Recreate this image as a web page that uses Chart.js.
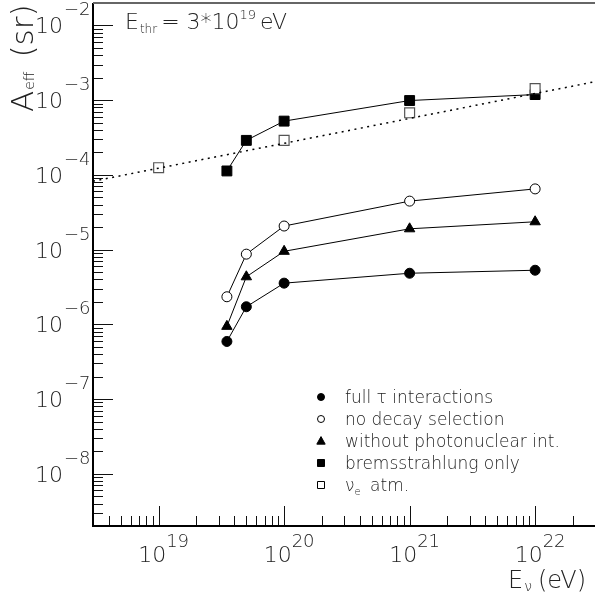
<!DOCTYPE html>
<html><head><meta charset="utf-8">
<script src="https://cdn.jsdelivr.net/npm/chart.js@4/dist/chart.umd.min.js"></script>
<style>html,body{margin:0;padding:0;background:#fff;}#wrap{width:595px;height:606px;position:relative;}</style>
</head><body><div id="wrap"><canvas id="c" width="595" height="606"></canvas></div>
<script>
// ---- data ----
const energies = [3.5e19, 5e19, 1e20, 1e21, 1e22];
const fullTau = [5.9e-7, 1.72e-6, 3.56e-6, 4.83e-6, 5.3e-6];
const noDecay = [2.34e-6, 8.7e-6, 2.07e-5, 4.46e-5, 6.5e-5];
const noPhotonuclear = [9.4e-7, 4.33e-6, 9.5e-6, 1.9e-5, 2.36e-5];
const bremsOnly = [1.13e-4, 2.9e-4, 5.25e-4, 9.9e-4, 1.19e-3];
const nueEnergies = [1e19, 1e20, 1e21, 1e22];
const nueAtm = [1.25e-4, 2.9e-4, 6.78e-4, 1.43e-3];
const fitEnergies = [3e18, 3e22];
const fitValues = [8.24e-5, 1.77e-3];
const xRange = [3e18, 3e22];
const yRange = [2e-9, 2e-2];
const xTickExponents = [19, 20, 21, 22];
const yTickExponents = [-2, -3, -4, -5, -6, -7, -8];
const legendLabels = ['full \u03c4 interactions', 'no decay selection', 'without photonuclear int.', 'bremsstrahlung only', '\u03bd|e| atm.'];

const FONT = '"DejaVu Sans", sans-serif';
const TXT = '#222';
const pts = (xs, ys) => xs.map((v, i) => ({x: v, y: ys[i]}));

const markerDefs = [
  {style: 'circle', fill: '#000'},
  {style: 'circle', fill: '#fff'},
  {style: 'triangle', fill: '#000'},
  {style: 'rect', fill: '#000'},
  {style: 'rect', fill: '#fff'}
];

function drawMarker(ctx, style, fill, x, y, r) {
  ctx.beginPath();
  if (style === 'circle') ctx.arc(x, y, r, 0, Math.PI * 2);
  else if (style === 'rect') ctx.rect(x - r, y - r, 2 * r, 2 * r);
  else { ctx.moveTo(x, y - r * 1.05); ctx.lineTo(x + r, y + r * 0.75); ctx.lineTo(x - r, y + r * 0.75); ctx.closePath(); }
  ctx.fillStyle = fill; ctx.fill();
  ctx.lineWidth = 1; ctx.strokeStyle = '#000'; ctx.stroke();
}

function rich(ctx, parts, x, y) {
  let cx = x;
  for (const p of parts) {
    ctx.font = (p.w || 200) + ' ' + p.s + 'px ' + FONT;
    ctx.fillText(p.t, cx, y + (p.dy || 0));
    cx += ctx.measureText(p.t).width + (p.gap || 0);
  }
  return cx - x;
}
function richWidth(ctx, parts) {
  let w = 0;
  for (const p of parts) { ctx.font = (p.w || 200) + ' ' + p.s + 'px ' + FONT; w += ctx.measureText(p.t).width + (p.gap || 0); }
  return w;
}

const rootAxes = {
  id: 'rootAxes',
  afterDraw(chart) {
    const {ctx, chartArea: a} = chart;
    const xs = chart.scales.x, ys = chart.scales.y;
    ctx.save();
    // ticks
    ctx.strokeStyle = '#111'; ctx.lineWidth = 1;
    ctx.beginPath();
    for (let d = 18; d <= 22; d++) for (let m = 1; m < 10; m++) {
      const v = m * Math.pow(10, d);
      if (v <= xs.min * 1.001 || v >= xs.max * 0.999) continue;
      const px = Math.round(xs.getPixelForValue(v)) + 0.5;
      const len = m === 1 ? 20 : 10;
      ctx.moveTo(px, a.bottom); ctx.lineTo(px, a.bottom - len);
    }
    for (let d = -9; d <= -2; d++) for (let m = 1; m < 10; m++) {
      const v = m * Math.pow(10, d);
      if (v <= ys.min * 1.001 || v >= ys.max * 0.999) continue;
      const py = Math.round(ys.getPixelForValue(v)) + 0.5;
      const len = m === 1 ? 20 : 10;
      ctx.moveTo(a.left, py); ctx.lineTo(a.left + len, py);
    }
    ctx.stroke();
    // frame
    ctx.lineWidth = 2; ctx.strokeStyle = '#000';
    ctx.beginPath(); ctx.moveTo(a.left, a.top); ctx.lineTo(a.left, a.bottom); ctx.lineTo(a.right + 2, a.bottom); ctx.stroke();
    ctx.strokeStyle = '#666';
    ctx.beginPath(); ctx.moveTo(a.left, a.top); ctx.lineTo(a.right + 2, a.top); ctx.stroke();

    ctx.fillStyle = TXT; ctx.textBaseline = 'alphabetic'; ctx.textAlign = 'left';
    // x tick labels
    for (const e of xTickExponents) {
      const px = xs.getPixelForValue(Math.pow(10, e));
      const parts = [{t: '10', s: 22}, {t: String(e), s: 18, dy: -15}];
      const w = richWidth(ctx, parts);
      rich(ctx, parts, px + 5 - w / 2, a.bottom + 36);
    }
    // y tick labels
    for (const e of yTickExponents) {
      const py = ys.getPixelForValue(Math.pow(10, e));
      ctx.font = '200 22px ' + FONT;
      const w10 = ctx.measureText('10').width;
      rich(ctx, [{t: '10', s: 22, gap: 1}, {t: '\u2212' + String(-e), s: 18, dy: -18}], a.left - 30 - w10, py + 8);
    }
    // header
    rich(ctx, [{t: 'E', s: 22, gap: 1}, {t: 'thr', s: 12, dy: 4, gap: 4}, {t: '= 3*10', s: 22}, {t: '19', s: 13, dy: -10, gap: 4}, {t: 'eV', s: 22}], a.left + 32, 29);
    // x title (right aligned near the canvas edge)
    const xt = [{t: 'E', s: 24, gap: 1}, {t: '\u03bd', s: 14, dy: 3, gap: 6}, {t: '(eV)', s: 24}];
    rich(ctx, xt, 586 - richWidth(ctx, xt), 588);
    // y title
    ctx.save(); ctx.translate(33, 112); ctx.rotate(-Math.PI / 2);
    rich(ctx, [{t: 'A', s: 31, gap: 1}, {t: 'eff', s: 14, dy: 1, gap: 14}, {t: '(sr)', s: 31}], 0, 0);
    ctx.restore();
    // legend
    const ly0 = 397, dyL = 22;
    legendLabels.forEach((lab, i) => {
      const y = ly0 + i * dyL;
      const md = markerDefs[i];
      drawMarker(ctx, md.style, md.fill, 321, y, md.style === 'triangle' ? 4.2 : 3.5);
      ctx.fillStyle = TXT;
      if (lab.includes('|')) {
        const [a1, sub, rest] = lab.split('|');
        rich(ctx, [{t: a1, s: 17}, {t: sub, s: 10, dy: 4, gap: 4}, {t: rest, s: 17}], 345, y + 6);
      } else rich(ctx, [{t: lab, s: 17}], 345, y + 6);
    });
    ctx.restore();
  }
};

const lineDs = (label, data, style, radius, fill) => ({
  label, data, showLine: true, borderColor: '#000', borderWidth: 1,
  pointStyle: style, pointRadius: radius, pointHoverRadius: radius,
  pointBackgroundColor: fill, pointBorderColor: '#000', pointBorderWidth: 1
});

new Chart(document.getElementById('c'), {
  type: 'line',
  data: {
    datasets: [
      {label: 'fit', data: pts(fitEnergies, fitValues), showLine: true, borderColor: '#000', borderWidth: 1.5,
       borderDash: [2, 4.5], pointRadius: 0},
      {label: legendLabels[4], data: pts(nueEnergies, nueAtm), showLine: false, pointStyle: 'rect', pointRadius: 7,
       pointBackgroundColor: '#fff', pointBorderColor: '#555', pointBorderWidth: 1.2},
      lineDs(legendLabels[3], pts(energies, bremsOnly), 'rect', 7, '#000'),
      lineDs(legendLabels[1], pts(energies, noDecay), 'circle', 5, '#fff'),
      lineDs(legendLabels[2], pts(energies, noPhotonuclear), 'triangle', 6, '#000'),
      lineDs(legendLabels[0], pts(energies, fullTau), 'circle', 5, '#000')
    ]
  },
  options: {
    responsive: false, animation: false, devicePixelRatio: 1,
    layout: {autoPadding: false, padding: {left: 93, top: 3, right: 0, bottom: 80}},
    plugins: {legend: {display: false}, tooltip: {enabled: false}},
    elements: {line: {tension: 0}},
    scales: {
      x: {type: 'logarithmic', min: xRange[0], max: xRange[1], display: false},
      y: {type: 'logarithmic', min: yRange[0], max: yRange[1], display: false}
    }
  },
  plugins: [rootAxes]
});
</script></body></html>
